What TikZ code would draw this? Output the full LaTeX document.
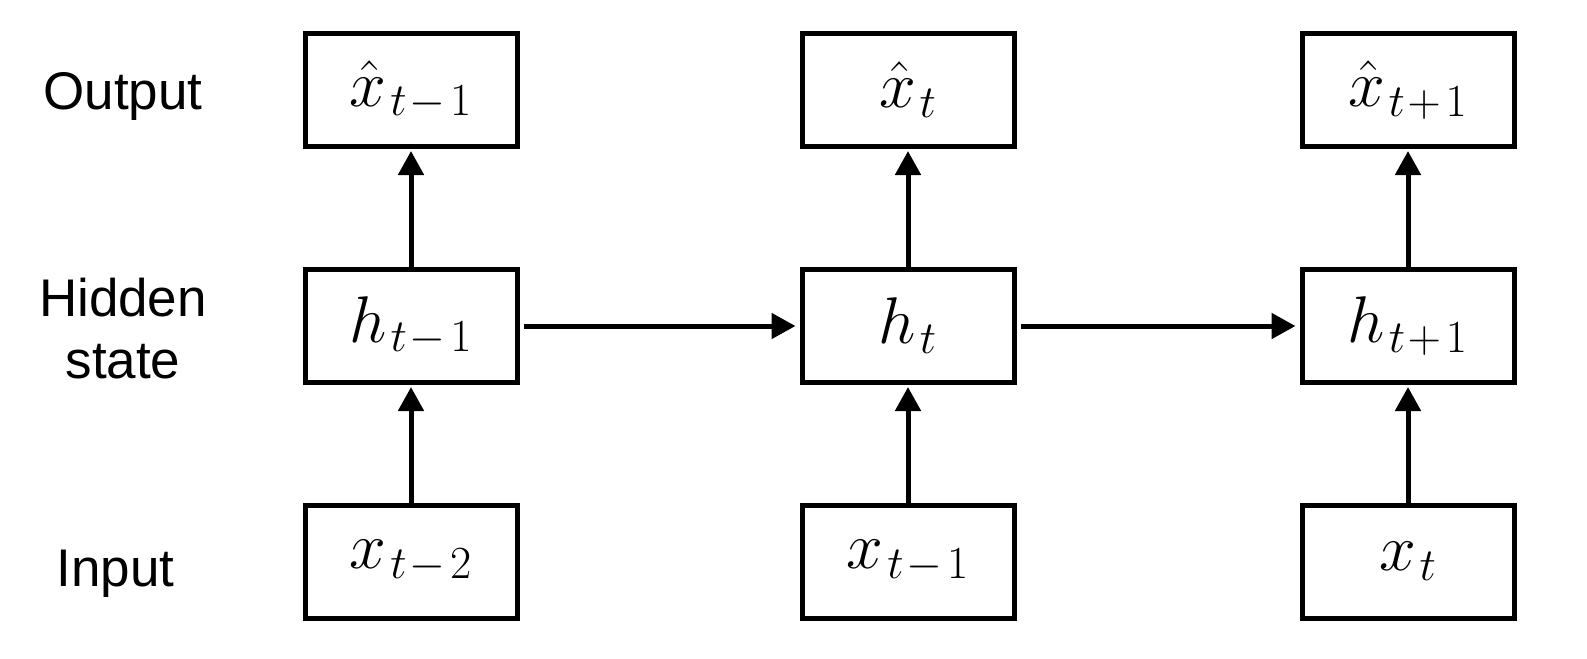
\RequirePackage{fix-cm}
\documentclass[tikz,border=0pt]{standalone}
\usepackage{fontspec}
\newfontfamily\labelfont{Liberation Sans}
\usetikzlibrary{arrows.meta}
\DeclareMathSizes{33}{33}{23}{16}
\newcommand{\rnnsub}[1]{_{\mkern1.5mu #1}}
\newcommand{\rnnop}[1]{\mkern1mu#1\mkern2mu}
\begin{document}
\begin{tikzpicture}[x=0.5pt,y=-0.5pt,
  cell/.style={draw,line width=2.5pt,minimum width=106pt,minimum height=56.5pt,inner sep=0pt,font=\fontsize{33}{40}\selectfont},
  conn/.style={line width=2.5pt,-{Triangle[length=12pt,width=12.5pt]}},
  lab/.style={font=\labelfont\fontsize{26.5}{31}\selectfont,align=center,inner sep=0pt}]
\useasboundingbox (0,0) rectangle (1587,659);
% row labels
\node[lab,anchor=base] (lout) at (123,109) {Output};
\node[lab] (lhid) at (123,329) {Hidden\\state};
\node[lab,anchor=base] (lin) at (115.5,586) {Input};
% column 1
\node[cell] (o1) at (411,90) {$\hat{x}\rnnsub{t\rnnop{-}1}$};
\node[cell] (h1) at (411,326) {$h\rnnsub{t\rnnop{-}1}$};
\node[cell] (i1) at (411,561.5) {$x\rnnsub{t\rnnop{-}2}$};
% column 2
\node[cell] (o2) at (908,90) {$\hat{x}\rnnsub{t}$};
\node[cell] (h2) at (908,326) {$h\rnnsub{t}$};
\node[cell] (i2) at (908,561.5) {$x\rnnsub{t\rnnop{-}1}$};
% column 3
\node[cell] (o3) at (1408,90) {$\hat{x}\rnnsub{t\rnnop{+}1}$};
\node[cell] (h3) at (1408,326) {$h\rnnsub{t\rnnop{+}1}$};
\node[cell] (i3) at (1408,561.5) {$x\rnnsub{t}$};
% vertical connectors
\foreach \c in {1,2,3}{
  \draw[conn,shorten >=1pt] (i\c) -- (h\c);
  \draw[conn,shorten >=1pt] (h\c) -- (o\c);
}
% horizontal connectors
\draw[conn,shorten <=2pt,shorten >=2pt] (h1) -- (h2);
\draw[conn,shorten <=2pt,shorten >=2pt] (h2) -- (h3);
\end{tikzpicture}
\end{document}
